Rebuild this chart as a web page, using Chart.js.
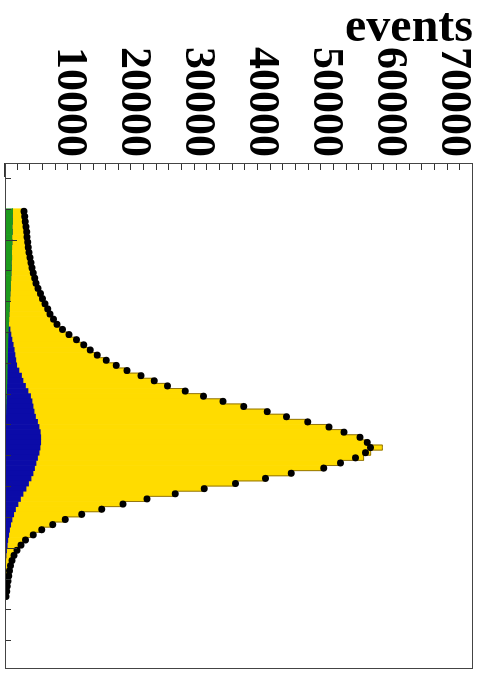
<!DOCTYPE html>
<html>
<head>
<meta charset="utf-8">
<title>events</title>
<script src="https://cdn.jsdelivr.net/npm/chart.js@4.4.1/dist/chart.umd.min.js"></script>
<style>
  html, body { margin: 0; padding: 0; background: #fff; }
  #wrap { position: relative; width: 479px; height: 673px; overflow: hidden; }
  /* plot is laid out normally, then turned a quarter turn clockwise */
  #plot { position: absolute; left: 0; top: 0; transform-origin: 0 0; transform: translate(479px, 0) rotate(90deg); }
</style>
</head>
<body>
<div id="wrap"><canvas id="plot" width="673" height="479"></canvas></div>
<script>
// bin centres (0.5 wide bins)
const binCenters = [
  57.25, 57.75, 58.25, 58.75, 59.25, 59.75, 60.25, 60.75, 61.25, 61.75,
  62.25, 62.75, 63.25, 63.75, 64.25, 64.75, 65.25, 65.75, 66.25, 66.75,
  67.25, 67.75, 68.25, 68.75, 69.25, 69.75, 70.25, 70.75, 71.25, 71.75,
  72.25, 72.75, 73.25, 73.75, 74.25, 74.75, 75.25, 75.75, 76.25, 76.75,
  77.25, 77.75, 78.25, 78.75, 79.25, 79.75, 80.25, 80.75, 81.25, 81.75,
  82.25, 82.75, 83.25, 83.75, 84.25, 84.75, 85.25, 85.75, 86.25, 86.75,
  87.25, 87.75, 88.25, 88.75, 89.25, 89.75, 90.25, 90.75, 91.25, 91.75,
  92.25, 92.75, 93.25, 93.75, 94.25, 94.75
];

// stacked MC components, bottom to top
const bkgGreen = [
  1200, 1140, 1170, 1090, 1140, 1060, 1090, 1050, 1020, 1050,
  970, 980, 940, 910, 860, 830, 780, 750, 700, 660,
  620, 590, 550, 520, 480, 450, 440, 410, 390, 380,
  360, 340, 330, 310, 280, 250, 220, 190, 160, 130,
  90, 80, 70, 60, 60, 55, 50, 50, 40, 30,
  30, 25, 25, 15, 15, 15, 10, 10, 10, 10,
  10, 10, 10, 10, 10, 10, 10, 10, 10, 10,
  10, 10, 10, 10, 10, 10
];
const bkgBlue = [
  0, 0, 0, 0, 0, 0, 0, 0, 0, 0,
  0, 0, 0, 0, 0, 0, 0, 0, 0, 0,
  0, 0, 0, 270, 450, 640, 840, 1030, 1170, 1310,
  1470, 1840, 2250, 2500, 2920, 3340, 3770, 4030, 4220, 4410,
  4670, 5000, 5240, 5450, 5520, 5520, 5420, 5270, 5040, 4810,
  4580, 4350, 4040, 3660, 3270, 2800, 2410, 2020, 1630, 1350,
  1090, 880, 700, 570, 430, 340, 240, 160, 100, 55,
  25, 10, 10, 10, 10, 10
];
const signalYellow = [
  1370, 1540, 1600, 1790, 1850, 1980, 2060, 2190, 2330, 2460,
  2690, 2840, 3080, 3330, 3580, 3930, 4340, 4680, 5150, 5610,
  6010, 6660, 7280, 7900, 8760, 9780, 10690, 11540, 12520, 13790,
  15210, 16530, 18320, 20170, 21860, 24240, 26700, 29500, 32550, 36060,
  38830, 41850, 44910, 47040, 49580, 50720, 53390, 51720, 50860, 47600,
  45220, 40370, 36660, 32370, 27910, 23850, 19820, 16460, 13570, 10720,
  8380, 6660, 5130, 3940, 2760, 2160, 1630, 1240, 980, 800,
  670, 560, 450, 340, 250, 140
];

// measured events
const dataEvents = [
  2970, 3080, 3170, 3280, 3390, 3440, 3550, 3640, 3750, 3910,
  4060, 4220, 4420, 4640, 4840, 5160, 5520, 5830, 6250, 6670,
  7030, 7550, 8130, 8980, 10000, 11170, 12270, 13280, 14380, 15780,
  17340, 19020, 21200, 23280, 25360, 28130, 30980, 34020, 37230, 40890,
  43910, 47230, 50520, 52860, 55360, 56520, 57030, 56250, 54690, 52340,
  49730, 44640, 40630, 35940, 31090, 26560, 22140, 18390, 15110, 11980,
  9380, 7450, 5730, 4420, 3200, 2500, 1880, 1410, 1090, 860,
  700, 580, 470, 360, 270, 160
];

const yTickLabels = ['10000', '20000', '30000', '40000', '50000', '60000', '70000'];

const toPoints = vals => vals.map((v, i) => ({ x: binCenters[i], y: v }));
const mcTotal = bkgGreen.map((g, i) => g + bkgBlue[i] + signalYellow[i]);

const serif = "'Liberation Serif', 'DejaVu Serif', serif";

// ROOT-style frame, inward ticks and the events labels
const frameTicks = {
  id: 'frameTicks',
  afterDatasetsDraw(chart) {
    const { ctx, chartArea: a, scales: { x, y } } = chart;
    ctx.save();
    ctx.strokeStyle = '#333';
    ctx.lineWidth = 1;
    ctx.beginPath();
    y.ticks.forEach(t => {
      const p = Math.round(y.getPixelForValue(t.value)) + 0.5;
      const len = Math.round(t.value) % 10000 === 0 ? 14 : 7;
      ctx.moveTo(a.left, p);
      ctx.lineTo(a.left + len, p);
    });
    x.ticks.forEach(t => {
      const p = Math.round(x.getPixelForValue(t.value)) + 0.5;
      const len = Math.round(t.value) % 30 === 0 ? 12 : 6;
      ctx.moveTo(p, a.bottom);
      ctx.lineTo(p, a.bottom - len);
    });
    ctx.stroke();
    ctx.strokeStyle = '#444';
    ctx.strokeRect(a.left + 0.5, a.top + 0.5, a.width - 1, a.height - 1);

    ctx.fillStyle = '#000';
    ctx.font = 'bold 44px ' + serif;
    ctx.textAlign = 'right';
    ctx.textBaseline = 'middle';
    yTickLabels.forEach(lbl => {
      ctx.fillText(lbl, a.left - 6, y.getPixelForValue(Number(lbl)));
    });
    ctx.restore();
  }
};

const barStyle = { stack: 'mc', order: 3, barPercentage: 1, categoryPercentage: 1, borderWidth: 0 };

new Chart(document.getElementById('plot'), {
  type: 'bar',
  data: {
    datasets: [
      { ...barStyle, label: 'bkg 1', data: toPoints(bkgGreen), backgroundColor: '#1c9a1c' },
      { ...barStyle, label: 'bkg 2', data: toPoints(bkgBlue), backgroundColor: '#0b0ba8' },
      { ...barStyle, label: 'signal', data: toPoints(signalYellow), backgroundColor: '#ffdc00' },
      {
        type: 'line', label: 'mc outline', stack: 'outline', order: 2,
        data: toPoints(mcTotal), stepped: 'middle',
        borderColor: 'rgba(110,80,10,0.75)', borderWidth: 1, pointRadius: 0, fill: false
      },
      {
        type: 'line', label: 'data', stack: 'data', order: 1,
        data: toPoints(dataEvents), showLine: false,
        pointRadius: 3.5, pointBackgroundColor: '#000', pointBorderWidth: 0
      }
    ]
  },
  options: {
    responsive: false,
    animation: false,
    layout: { padding: { left: 0, right: 1, top: 6, bottom: 0 } },
    plugins: { legend: { display: false }, tooltip: { enabled: false } },
    scales: {
      x: {
        type: 'linear', stacked: true, offset: false,
        min: 52.548, max: 101.806,
        ticks: { display: false, stepSize: 3, includeBounds: false },
        grid: { display: false, offset: false, drawTicks: false },
        border: { display: false },
        afterFit(scale) { scale.height = 5; scale.paddingLeft = 0; scale.paddingRight = 0; }
      },
      y: {
        stacked: true,
        min: 0, max: 73000,
        ticks: { display: false, stepSize: 2000, includeBounds: false, autoSkip: false },
        grid: { display: false, drawTicks: false },
        border: { display: false },
        title: {
          display: true, text: 'events', align: 'end', color: '#000',
          padding: { top: 0, bottom: 0 },
          font: { family: serif, size: 48, weight: 'bold' }
        },
        afterFit(scale) { scale.width = 163; scale.paddingTop = 0; scale.paddingBottom = 0; }
      }
    }
  },
  plugins: [frameTicks]
});
</script>
</body>
</html>
